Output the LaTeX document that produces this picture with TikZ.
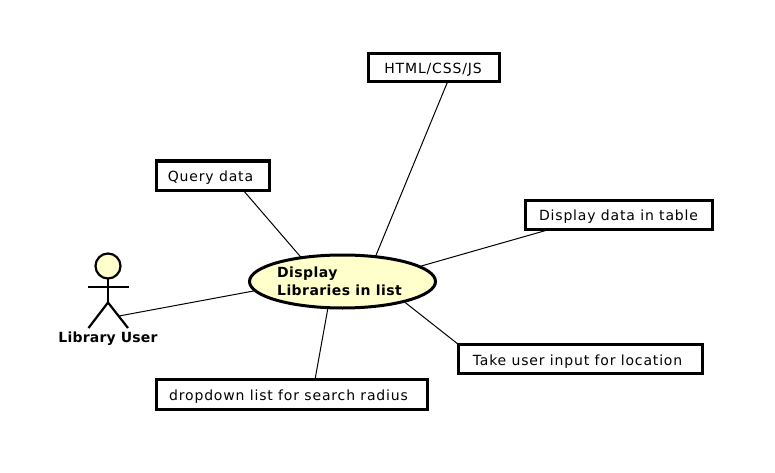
\documentclass[tikz,border=0pt]{standalone}
\usepackage{fontspec}
\setmainfont{DejaVu Sans}
\newfontfamily\boxfont[LetterSpace=6]{DejaVu Sans}
\newfontfamily\ucfont[LetterSpace=3]{DejaVu Sans Bold}
\newfontfamily\actfont[LetterSpace=1.5]{DejaVu Sans Bold}
\definecolor{ucfill}{HTML}{FFFFCC}
\usetikzlibrary{shapes.geometric}
\tikzset{
  box/.style={draw=black,line width=3pt,fill=white,rectangle,inner sep=0pt,outer sep=0pt,text height=15pt,text depth=3pt,font=\boxfont\fontsize{14}{16}\selectfont},
  usecase/.style={draw=black,line width=3pt,fill=ucfill,ellipse,inner sep=0pt,outer sep=0pt,minimum width=186pt,minimum height=53pt,align=left,font=\ucfont\fontsize{14}{18}\selectfont},
  link/.style={draw=black,line width=1pt},
  limb/.style={draw=black,line width=2.2pt},
  actorhead/.style={circle,draw=black,line width=2.2pt,fill=ucfill,minimum size=25pt,inner sep=0pt,outer sep=0pt},
  actorlabel/.style={font=\actfont\fontsize{14}{16}\selectfont,inner sep=0pt}
}
\begin{document}
\begin{tikzpicture}[x=1pt,y=-1pt]
\useasboundingbox (0,0) rectangle (775,473);
\fill[white] (0,0) rectangle (775,473);
\node[usecase] (uc) at (342.5,281.5) {Display\\Libraries in list\hspace*{6pt}};
\node[box,minimum width=113pt,minimum height=29pt] (query) at (212.5,175.5) {Query data\hspace*{4pt}};
\node[box,minimum width=131pt,minimum height=28pt] (html) at (434,68) {HTML/CSS/JS\hspace*{2pt}};
\node[box,minimum width=187pt,minimum height=29pt] (table) at (619,214.5) {Display data in table\hspace*{1pt}};
\node[box,minimum width=244pt,minimum height=29pt] (input) at (580.5,359) {Take user input for location\hspace*{6pt}};
\node[box,minimum width=271pt,minimum height=29.5pt] (radius) at (291.5,394.3) {dropdown list for search radius\hspace*{6pt}};
\node[actorhead] (actor) at (108,266) {};
\node[actorlabel] (actorname) at (108,338.5) {Library User};
\coordinate (hip) at ([yshift=-36.5pt]actor.center);
\coordinate (actorend) at ([xshift=11pt,yshift=-13.5pt]hip);
\draw[limb] (actor.south) -- (hip);
\draw[limb] ([xshift=-20pt,yshift=-21pt]actor.center) -- ([xshift=21pt,yshift=-21pt]actor.center);
\draw[limb] ([xshift=-19.5pt,yshift=-25.5pt]hip) -- (hip) -- ([xshift=20pt,yshift=-25.5pt]hip);
\draw[link] (uc.150) -- ([xshift=30.5pt]query.south);
\draw[link] (uc.37) -- ([xshift=13.5pt]html.south);
\draw[link] (uc.11) -- ([xshift=-68pt]table.south);
\draw[link] (uc.-18) -- (input.north west);
\draw[link] (uc.-119) -- ([xshift=23.5pt]radius.north);
\draw[link] (uc.-174) -- (actorend);
\end{tikzpicture}
\end{document}
